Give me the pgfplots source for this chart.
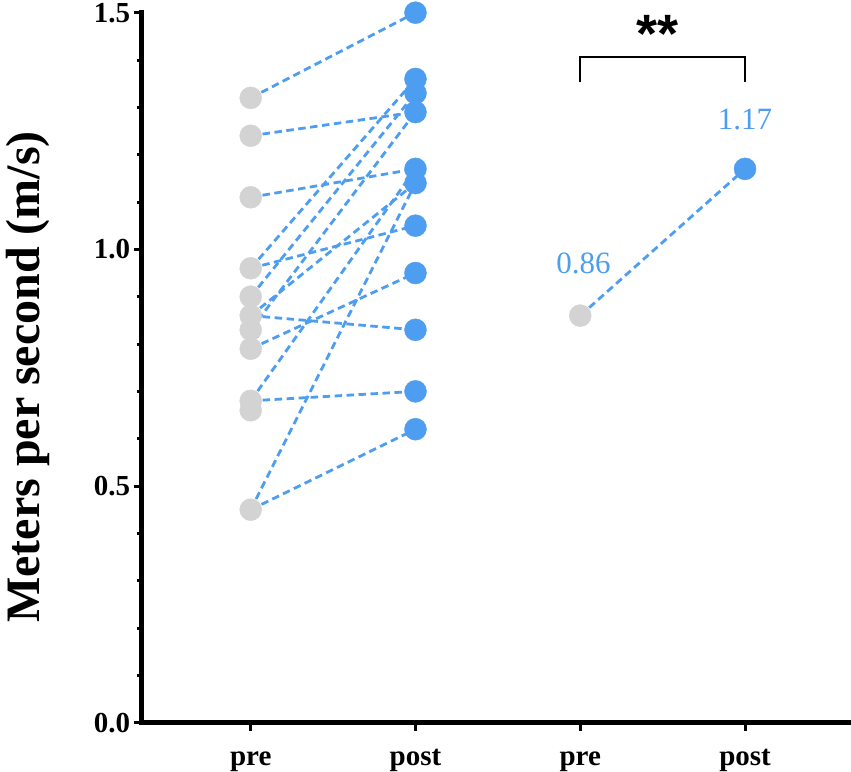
\documentclass[border=0pt]{standalone}
\usepackage{pgfplots}
\pgfplotsset{compat=1.18}
\usepackage{fontspec}
\setmainfont{Liberation Serif}
\newfontfamily\sansf{Liberation Sans}
\definecolor{ptblue}{RGB}{77,157,240}
\definecolor{ptgrey}{RGB}{211,211,211}
\begin{document}
\begin{tikzpicture}
\begin{axis}[
  scale only axis, width=709.3pt, height=710pt,
  xmin=0.3385, xmax=4.643, ymin=0, ymax=1.5,
  axis x line*=bottom, axis y line*=left,
  axis line style={line width=5.5pt, line cap=rect},
  clip=false,
  tick align=outside,
  major tick length=8pt, minor tick length=5pt,
  every tick/.style={line width=3pt, black},
  xtick={1,2,3,4}, xticklabels={pre,post,pre,post},
  ytick={0,0.5,1,1.5}, yticklabels={0.0,0.5,1.0,1.5},
  minor ytick={0.1,0.2,0.3,0.4,0.6,0.7,0.8,0.9,1.1,1.2,1.3,1.4},
  xticklabel style={font=\bfseries\fontsize{29}{29}\selectfont, anchor=base, yshift=-35pt},
  yticklabel style={font=\bfseries\fontsize{29}{29}\selectfont},
  ylabel={\bfseries Meters per second (m/s)},
  every axis y label/.style={at={(axis description cs:-0.1434,0.487)}, rotate=90, anchor=base, font=\fontsize{48}{48}\selectfont},
  pair/.style={ptblue, line width=2.8pt, dash pattern=on 7.5pt off 4.5pt},
]
\coordinate (bl) at (rel axis cs:0,0);
\coordinate (tr) at (rel axis cs:1,1);
% paired lines (left panel)
\addplot[pair] coordinates {(1,1.32) (2,1.50)};
\addplot[pair] coordinates {(1,1.24) (2,1.29)};
\addplot[pair] coordinates {(1,1.11) (2,1.17)};
\addplot[pair] coordinates {(1,0.96) (2,1.05)};
\addplot[pair] coordinates {(1,0.96) (2,1.36)};
\addplot[pair] coordinates {(1,0.90) (2,1.33)};
\addplot[pair] coordinates {(1,0.83) (2,1.29)};
\addplot[pair] coordinates {(1,0.86) (2,1.14)};
\addplot[pair] coordinates {(1,0.86) (2,0.83)};
\addplot[pair] coordinates {(1,0.79) (2,0.95)};
\addplot[pair] coordinates {(1,0.68) (2,0.70)};
\addplot[pair] coordinates {(1,0.68) (2,1.17)};
\addplot[pair] coordinates {(1,0.45) (2,0.62)};
\addplot[pair] coordinates {(1,0.45) (2,1.14)};
% right panel line
\addplot[pair] coordinates {(3,0.86) (4,1.17)};
% pre points
\addplot[only marks, mark=*, mark size=11pt, color=ptgrey] coordinates {
(1,1.32) (1,1.24) (1,1.11) (1,0.96) (1,0.90) (1,0.86) (1,0.83) (1,0.79) (1,0.68) (1,0.66) (1,0.45) (3,0.86)};
% post points
\addplot[only marks, mark=*, mark size=11pt, color=ptblue] coordinates {
(2,1.50) (2,1.36) (2,1.33) (2,1.29) (2,1.17) (2,1.14) (2,1.05) (2,0.95) (2,0.83) (2,0.70) (2,0.62) (4,1.17)};
% annotations
\draw[line width=2.2pt, black] (axis cs:3,1.353) -- (axis cs:3,1.406) -- (axis cs:4,1.406) -- (axis cs:4,1.353);
\node[font=\sansf\bfseries\fontsize{54}{54}\selectfont] at (axis cs:3.47,1.455) {**};
\node[text=ptblue, font=\fontsize{31}{31}\selectfont] at (axis cs:3.02,0.970) {0.86};
\node[text=ptblue, font=\fontsize{31}{31}\selectfont] at (axis cs:4.0,1.274) {1.17};
\end{axis}
\pgfresetboundingbox
\path[use as bounding box] ([shift={(-141.7pt,-49.3pt)}]bl) rectangle ([shift={(0pt,12.7pt)}]tr);
\end{tikzpicture}
\end{document}
